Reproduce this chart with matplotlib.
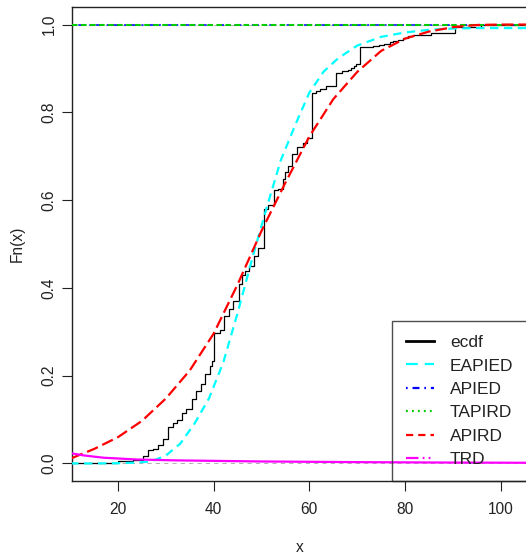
import matplotlib
matplotlib.use("Agg")
import matplotlib.pyplot as plt
from matplotlib.lines import Line2D

plt.rcParams["font.family"] = ["Liberation Sans", "DejaVu Sans"]
plt.rcParams["lines.scale_dashes"] = False

# --- dados ---
ecdf_x = [20.0, 23.2, 25.2, 26.3, 27.3, 28.4, 29.4, 30.5, 31.5, 32.4,
          33.3, 34.3, 35.4, 36.4, 37.3, 38.2, 39.2, 39.6, 40.1, 41.3,
          42.2, 43.2, 44.1, 45.2, 45.9, 46.6, 47.3, 48.4, 49.3, 50.5,
          51.4, 52.6, 53.5, 54.5, 55.0, 55.6, 56.4, 57.5, 58.7, 59.6,
          60.5, 61.3, 62.2, 63.4, 65.5, 66.8, 68.0, 68.7, 69.4, 69.8,
          70.5, 71.9, 73.4, 74.5, 75.7, 76.8, 77.5, 78.5, 79.6, 80.6,
          81.7, 85.5, 90.5, 95.8]
ecdf_F = [0.005, 0.007, 0.018, 0.030, 0.034, 0.043, 0.055, 0.082, 0.093, 0.100,
          0.116, 0.123, 0.146, 0.166, 0.180, 0.203, 0.222, 0.233, 0.298, 0.303,
          0.336, 0.351, 0.370, 0.410, 0.430, 0.438, 0.449, 0.472, 0.491, 0.579,
          0.590, 0.624, 0.626, 0.647, 0.663, 0.677, 0.706, 0.720, 0.730, 0.742,
          0.845, 0.848, 0.853, 0.860, 0.890, 0.894, 0.897, 0.901, 0.905, 0.910,
          0.948, 0.949, 0.951, 0.953, 0.956, 0.960, 0.962, 0.964, 0.970, 0.974,
          0.977, 0.981, 0.994, 1.0]

eapied_x = [10, 15, 20, 24, 27, 30, 33, 36, 39, 42, 45, 48, 51, 54, 57,
            60, 63, 66, 70, 75, 80, 85, 90, 95, 100, 106]
eapied_y = [0.0, 0.0, 0.0005, 0.002, 0.005, 0.018, 0.045, 0.091, 0.148, 0.23,
            0.343, 0.465, 0.58, 0.69, 0.77, 0.845, 0.893, 0.923, 0.952, 0.972,
            0.982, 0.988, 0.991, 0.992, 0.992, 0.992]

apird_x = [10.3, 15, 20, 25, 30, 35, 40, 45, 50, 55, 60, 65, 70, 75, 80,
           85, 90, 95, 100, 106]
apird_y = [0.012, 0.033, 0.06, 0.097, 0.148, 0.212, 0.296, 0.408, 0.53, 0.64,
           0.745, 0.83, 0.892, 0.94, 0.968, 0.984, 0.994, 0.999, 1.0, 1.0]

trd_x = [10.3, 13, 17, 24, 32, 50, 70, 90, 106]
trd_y = [0.023, 0.018, 0.013, 0.009, 0.007, 0.0045, 0.003, 0.002, 0.0015]

apied_nivel = 1.0
tapird_nivel = 1.0

x_ticks = [20, 40, 60, 80, 100]
y_ticks = [0.0, 0.2, 0.4, 0.6, 0.8, 1.0]
rotulos = ["ecdf", "EAPIED", "APIED", "TAPIRD", "APIRD", "TRD"]

# --- figura ---
W, H = 526, 560
fig = plt.figure(figsize=(W / 100, H / 100), dpi=100)
esq, dir_, cima, baixo = 71.5, 527, 7, 481
ax = fig.add_axes([esq / W, 1 - baixo / H, (dir_ - esq) / W, (baixo - cima) / H])

xmin, xmax = 10.27, 105.5
ax.set_xlim(xmin, xmax)
ax.set_ylim(-0.04, 1.04)

# linhas cinzentas do plot.ecdf
for nivel in (0, 1):
    ax.axhline(nivel, color="#b3b3b3", linewidth=0.75, dashes=(3, 3), zorder=1)

ax.step([xmin] + ecdf_x + [xmax], [0] + ecdf_F + [1.0], where="post",
        color="black", linewidth=0.9, zorder=2)
ax.plot(eapied_x, eapied_y, color="#00ffff", linewidth=1.6, dashes=(6, 4), zorder=3)
ax.axhline(apied_nivel, color="#0000ff", linewidth=1.1, dashes=(1.5, 3, 5, 3), zorder=3)
ax.axhline(tapird_nivel, color="#00cc00", linewidth=1.5, dashes=(4, 2.5), zorder=3)
ax.plot(apird_x, apird_y, color="#ff0000", linewidth=1.6, dashes=(8.5, 3.5), zorder=4)
ax.plot(trd_x, trd_y, color="#ff00ff", linewidth=1.6, zorder=4)

# eixos estilo R
for lado in ("top", "bottom", "left", "right"):
    ax.spines[lado].set_linewidth(1.0)
    ax.spines[lado].set_color("#222222")
ax.set_xticks(x_ticks)
ax.set_yticks(y_ticks)
ax.set_yticklabels([f"{v:.1f}" for v in y_ticks])
ax.tick_params(direction="out", length=7.2, width=0.8, color="#222222",
               labelsize=11.2, labelcolor="#222222")
ax.tick_params(axis="x", pad=8.0)
ax.tick_params(axis="y", pad=3.5)
for lab in ax.get_yticklabels():
    lab.set_rotation(90)
    lab.set_va("center")

ax.set_xlabel("x", fontsize=11.2, color="#222222")
ax.set_ylabel("Fn(x)", fontsize=11.2, color="#222222")
ax.xaxis.set_label_coords(0.5, (baixo - 548) / (baixo - cima))
ax.xaxis.label.set_va("center")
ax.yaxis.set_label_coords((17 - esq) / (dir_ - esq), 0.5)
ax.yaxis.label.set_va("center")
ax.yaxis.label.set_ha("center")

# legenda
handles = [
    Line2D([], [], color="black", linewidth=2.0),
    Line2D([], [], color="#00ffff", linewidth=1.6, dashes=(8.5, 5)),
    Line2D([], [], color="#0000ff", linewidth=1.6, dashes=(1.2, 3.5, 5, 3.5)),
    Line2D([], [], color="#00cc00", linewidth=1.6, dashes=(1.3, 3)),
    Line2D([], [], color="#ff0000", linewidth=1.6, dashes=(5.2, 3.6)),
    Line2D([], [], color="#ff00ff", linewidth=1.6, dashes=(9, 3, 1.3, 3, 1.3, 3)),
]
leg = ax.legend(handles, rotulos, loc="lower right", bbox_to_anchor=(1, 0),
                borderaxespad=0, fontsize=12.5, handlelength=1.65,
                handletextpad=0.9, borderpad=0.78, labelspacing=0.48,
                fancybox=False)
leg.get_frame().set_facecolor("none")
leg.get_frame().set_edgecolor("#222222")
leg.get_frame().set_linewidth(1.0)
for t in leg.get_texts():
    t.set_color("#222222")

fig.savefig("out.png", dpi=100)
